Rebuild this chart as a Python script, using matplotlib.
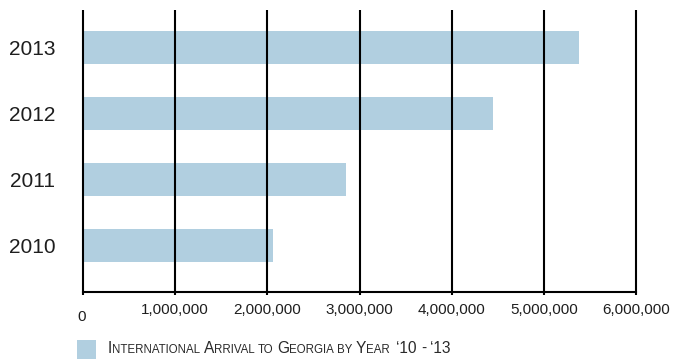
import matplotlib
matplotlib.use("Agg")
import matplotlib.pyplot as plt
from matplotlib.ticker import FixedLocator, FuncFormatter

# Data
years = ["2010", "2011", "2012", "2013"]
arrivals = [2058000, 2853000, 4450000, 5380000]
x_ticks = [0, 1000000, 2000000, 3000000, 4000000, 5000000, 6000000]
legend_label = "International Arrival to Georgia by Year  \u201810 - \u201813"

BAR_COLOR = "#b1cfe0"
TEXT_COLOR = "#1e1e1e"
FONT = "Liberation Sans"

plt.rcParams["font.family"] = [FONT, "DejaVu Sans"]

W, H, DPI = 684, 361, 100
fig = plt.figure(figsize=(W / DPI, H / DPI), dpi=DPI)
ax = fig.add_axes([83 / W, (H - 292) / H, (636 - 83) / W, (292 - 10) / H])

ypos = list(range(len(years)))
ax.barh(ypos, arrivals, height=0.5, color=BAR_COLOR, zorder=1)

ax.set_xlim(x_ticks[0], x_ticks[-1])
ax.set_ylim(-0.7045, 3.568)

# vertical gridlines drawn on top of the bars
ax.vlines(x_ticks, 0, 1, transform=ax.get_xaxis_transform(), colors="black",
          linewidth=1.5, zorder=3, clip_on=False)

for side in ("top", "right", "left"):
    ax.spines[side].set_visible(False)
ax.spines["bottom"].set_linewidth(1.5)
ax.spines["bottom"].set_color("black")
ax.spines["bottom"].set_zorder(4)

ax.xaxis.set_major_locator(FixedLocator(x_ticks))
ax.xaxis.set_major_formatter(FuncFormatter(lambda v, p: "" if v == 0 else f"{int(v):,}"))
ax.tick_params(axis="x", direction="out", length=2.5, width=1.5, color="black",
               pad=5.5, labelsize=11, labelcolor=TEXT_COLOR)
ax.annotate("0", xy=(0, 0), xycoords=("data", "axes fraction"),
            xytext=(-1, -13), textcoords="offset points", ha="center", va="top",
            fontsize=11, color=TEXT_COLOR)

ax.set_yticks(ypos)
ax.set_yticklabels(years)
ax.tick_params(axis="y", length=0, pad=20, labelsize=15, labelcolor=TEXT_COLOR)

# Legend: swatch plus small-caps caption
fig.patches.append(matplotlib.patches.Rectangle(
    (77 / W, (H - 359) / H), 19 / W, 19 / H, transform=fig.transFigure,
    facecolor=BAR_COLOR, edgecolor="none"))

renderer = fig.canvas.get_renderer()
BIG, SMALL = 11.2, 8.3


def text_width(s, size):
    t = fig.text(0, 0, s, fontsize=size)
    w = t.get_window_extent(renderer).width
    t.remove()
    return w


def space_width(size):
    return text_width("x x", size) - text_width("xx", size)


# split caption into runs: lowercase letters become small capitals
runs = []
for ch in legend_label:
    if ch == " ":
        kind = "space"
    elif ch.islower():
        kind = "small"
    else:
        kind = "big"
    if runs and runs[-1][0] == kind:
        runs[-1][1] += ch
    else:
        runs.append([kind, ch])

x_px = 108.0
baseline = (H - 353) / H
prev_size = BIG
for kind, s in runs:
    if kind == "space":
        x_px += len(s) * space_width(prev_size)
        continue
    size = SMALL if kind == "small" else BIG
    txt = s.upper()
    t = fig.text(x_px / W, baseline, txt, fontsize=size, va="baseline",
                 ha="left", color="#2a2a2a")
    x_px += t.get_window_extent(renderer).width
    prev_size = size

fig.savefig("out.png", dpi=DPI)
